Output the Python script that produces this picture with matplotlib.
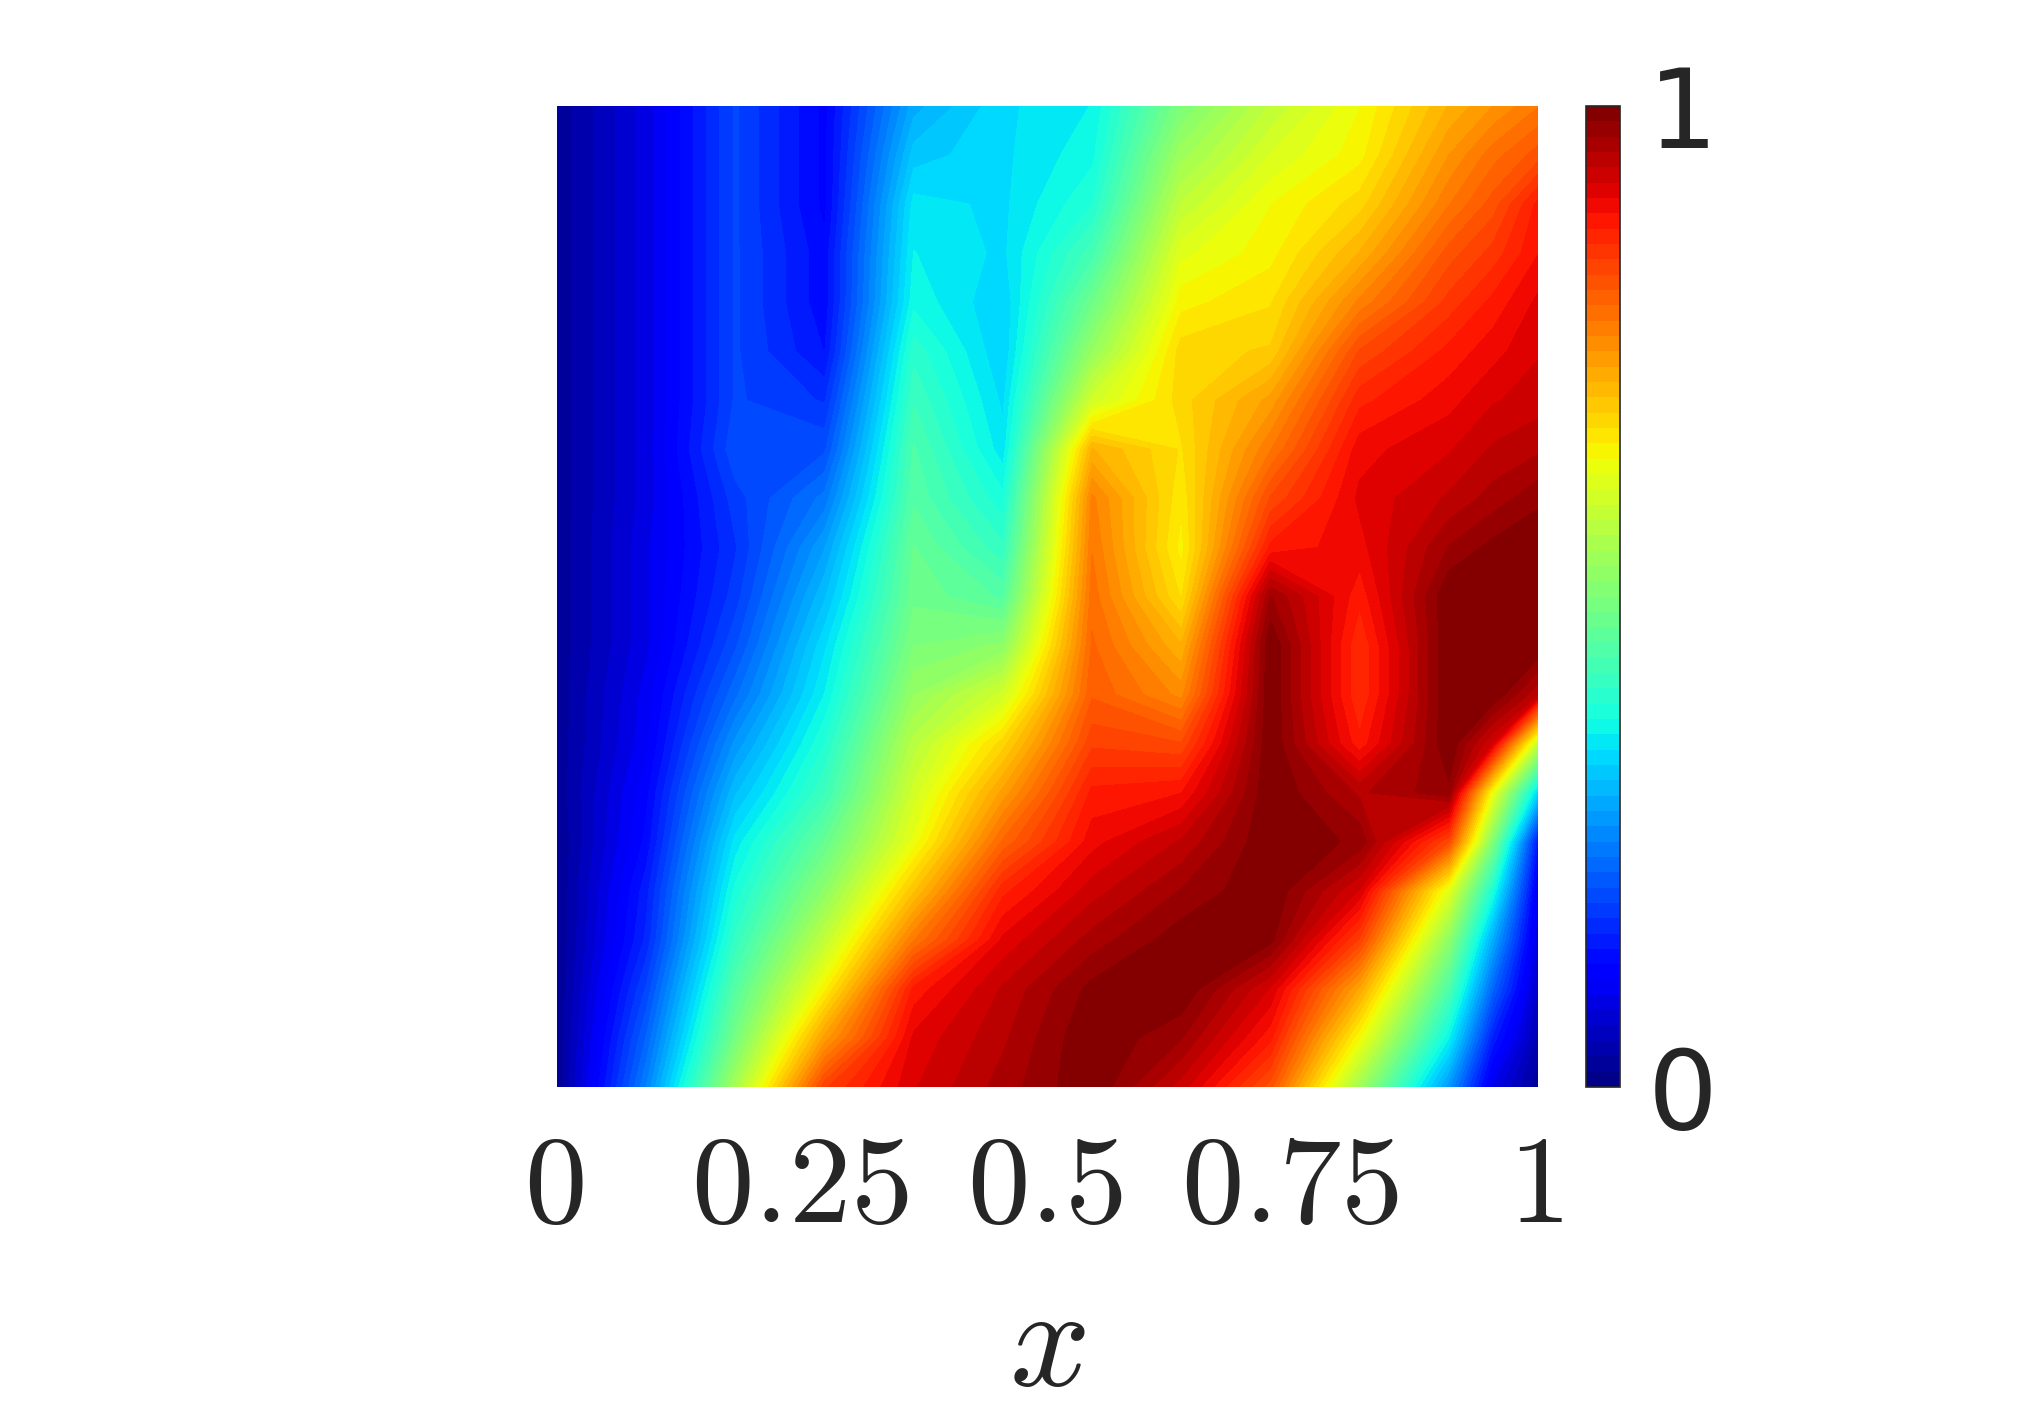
import numpy as np
import matplotlib
matplotlib.use('Agg')
import matplotlib.pyplot as plt
from matplotlib.transforms import ScaledTranslation

plt.rcParams['mathtext.fontset'] = 'cm'

# columns sit on the kinks in the picture (11 intervals) plus one in the steep
# band at lower right, rows every 0.05
x = np.append(np.arange(11) / 11, [0.954, 1])
y = np.linspace(1, 0, 21)

# values by column, top of the square first
col_00 = [.02, .02, .02, .02, .02, .02, .02, .02, .02, .02, .02, .02, .02, .02, .02, .015, .015, .015, .015, .015, .015]
col_01 = [.085, .085, .085, .085, .085, .085, .085, .085, .085, .09, .09, .09, .10, .105, .12, .13, .15, .16, .19, .22, .25]
col_02 = [.19, .19, .19, .19, .19, .19, .19, .20, .18, .17, .18, .20, .23, .27, .31, .35, .38, .41, .45, .49, .55]
col_03 = [.12, .12, .12, .13, .13, .14, .17, .20, .24, .28, .31, .34, .36, .39, .42, .47, .52, .58, .65, .74, .84]
col_04 = [.29, .32, .35, .36, .37, .40, .42, .44, .45, .47, .48, .50, .53, .57, .60, .63, .70, .78, .88, .91, .92]
col_05 = [.34, .34, .34, .34, .33, .33, .34, .35, .38, .41, .45, .52, .60, .68, .74, .80, .87, .91, .94, .95, .96]
col_06 = [.36, .37, .39, .43, .48, .53, .60, .72, .77, .78, .79, .80, .81, .84, .88, .90, .93, .96, .99, 1.0, 1.0]
col_07 = [.50, .54, .58, .62, .65, .68, .68, .67, .66, .65, .67, .72, .76, .83, .89, .94, .97, .995, 1.0, .97, .93]
col_08 = [.58, .61, .64, .65, .67, .69, .74, .78, .83, .88, .97, 1.0, 1.0, 1.0, 1.0, 1.0, 1.0, .99, .92, .88, .82]
col_09 = [.64, .65, .68, .72, .77, .83, .87, .90, .91, .90, .88, .86, .86, .88, .95, .98, .92, .84, .73, .64, .54]
col_10 = [.72, .75, .78, .82, .85, .88, .90, .92, .94, .97, 1.0, 1.0, 1.0, 1.0, .98, .83, .62, .52, .44, .36, .27]
col_11 = [.75, .79, .82, .85, .88, .90, .92, .94, .96, .99, 1.0, 1.0, 1.0, .92, .63, .50, .38, .29, .22, .15, .09]
col_12 = [.78, .82, .88, .89, .91, .92, .93, .95, .98, 1.0, 1.0, 1.0, .94, .58, .33, .14, .10, .08, .06, .04, .02]

z = np.column_stack([col_00, col_01, col_02, col_03, col_04, col_05, col_06,
                     col_07, col_08, col_09, col_10, col_11, col_12])

tick_pos = [0, 0.25, 0.5, 0.75, 1]
tick_labels = ['$0$', '$0.25$', '$0.5$', '$0.75$', '$1$']

W, H = 2025, 1414
fig = plt.figure(figsize=(W / 100, H / 100), dpi=100)
ax = fig.add_axes([557 / W, 1 - 1087 / H, 981 / W, 981 / H])
cax = fig.add_axes([1586 / W, 1 - 1087 / H, 34 / W, 981 / H])

cf = ax.contourf(x, y, z, levels=np.linspace(0, 1, 65), cmap='jet', vmin=0, vmax=1)

ax.set_xticks(tick_pos)
ax.set_xticklabels(tick_labels, fontsize=90, color='#262626')
ax.set_yticks([])
ax.tick_params(axis='x', length=0, pad=29)
ax.set_xlabel('$x$', fontsize=102, color='#262626', labelpad=20)
for s in ax.spines.values():
    s.set_visible(False)

# mathtext digits sit a little right of the tick
shift = ScaledTranslation(-2 / 72, 0, fig.dpi_scale_trans)
for lab in ax.get_xticklabels():
    lab.set_transform(lab.get_transform() + shift)

cb = fig.colorbar(cf, cax=cax, ticks=[0, 1])
cb.ax.set_yticklabels(['0', '1'], fontsize=79, color='#262626')
cb.ax.tick_params(length=0, pad=20)
cb.outline.set_edgecolor('#262626')
cb.outline.set_linewidth(1.2)

fig.savefig('out.png', dpi=100)
